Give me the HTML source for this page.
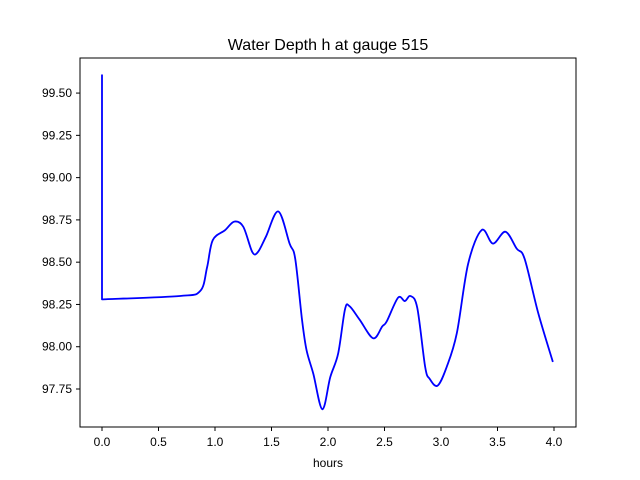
<!DOCTYPE html>
<html><head><meta charset="utf-8"><style>body{margin:0;background:#fff}svg{display:block;font-family:"Liberation Sans","DejaVu Sans",sans-serif}</style></head>
<body>
<svg id="chart" width="640" height="480" viewBox="0 0 640 480">
<rect width="640" height="480" fill="#fff"/>
<text x="328" y="50" text-anchor="middle" font-size="16">Water Depth h at gauge 515</text>
<g id="axes"></g>
<text x="328" y="467" text-anchor="middle" font-size="12">hours</text>
</svg>
<script>
const hours=[0,0,0.69,0.87,0.93,0.98,1.09,1.17,1.25,1.33,1.38,1.45,1.56,1.66,1.71,1.77,1.81,1.87,1.95,2.02,2.09,2.15,2.19,2.28,2.40,2.48,2.52,2.62,2.68,2.73,2.79,2.86,2.90,2.97,3.05,3.14,3.24,3.36,3.46,3.57,3.67,3.74,3.86,3.99];
const depth=[99.61,98.28,98.30,98.33,98.47,98.63,98.69,98.74,98.71,98.56,98.56,98.65,98.80,98.61,98.52,98.16,97.98,97.84,97.63,97.82,97.96,98.22,98.24,98.16,98.05,98.12,98.15,98.29,98.27,98.30,98.23,97.88,97.81,97.77,97.88,98.08,98.49,98.69,98.61,98.68,98.58,98.52,98.20,97.91];
const xTicks=[0,0.5,1,1.5,2,2.5,3,3.5,4];
const yTicks=[97.75,98,98.25,98.5,98.75,99,99.25,99.5];
const X=t=>102+t*113, Y=v=>389-(v-97.75)*169.1;
const NS='http://www.w3.org/2000/svg', g=document.getElementById('axes');
function mk(tag,at){const e=document.createElementNS(NS,tag);for(const k in at)e.setAttribute(k,at[k]);g.appendChild(e);return e;}
const frame=mk('rect',{x:80,y:58,width:496,height:369,fill:'none',stroke:'#000','stroke-width':1});


xTicks.forEach(t=>{const x=X(t);
const tk=mk('line',{x1:x,x2:x,y1:427,y2:431,stroke:'#000'});


const lb=mk('text',{x:x,y:446,'text-anchor':'middle','font-size':12});lb.textContent=t.toFixed(1);

});
yTicks.forEach(v=>{const y=Y(v);
const tk=mk('line',{x1:76,x2:80,y1:y,y2:y,stroke:'#000'});


const lb=mk('text',{x:72,y:y+4,'text-anchor':'end','font-size':12});lb.textContent=v.toFixed(2);

});
const P=hours.map((t,i)=>[X(t),Y(depth[i])]);
let d=`M${P[0][0]},${P[0][1]} L${P[1][0]},${P[1][1]}`;
for(let i=1;i<P.length-1;i++){const p0=P[Math.max(1,i-1)],p1=P[i],p2=P[i+1],p3=P[Math.min(P.length-1,i+2)];
d+=` C${p1[0]+(p2[0]-p0[0])/6},${p1[1]+(p2[1]-p0[1])/6} ${p2[0]-(p3[0]-p1[0])/6},${p2[1]-(p3[1]-p1[1])/6} ${p2[0]},${p2[1]}`;}
const line=mk('path',{d:d,fill:'none',stroke:'#0000ff','stroke-width':1.8,'stroke-linejoin':'round'});


</script>
</body></html>
